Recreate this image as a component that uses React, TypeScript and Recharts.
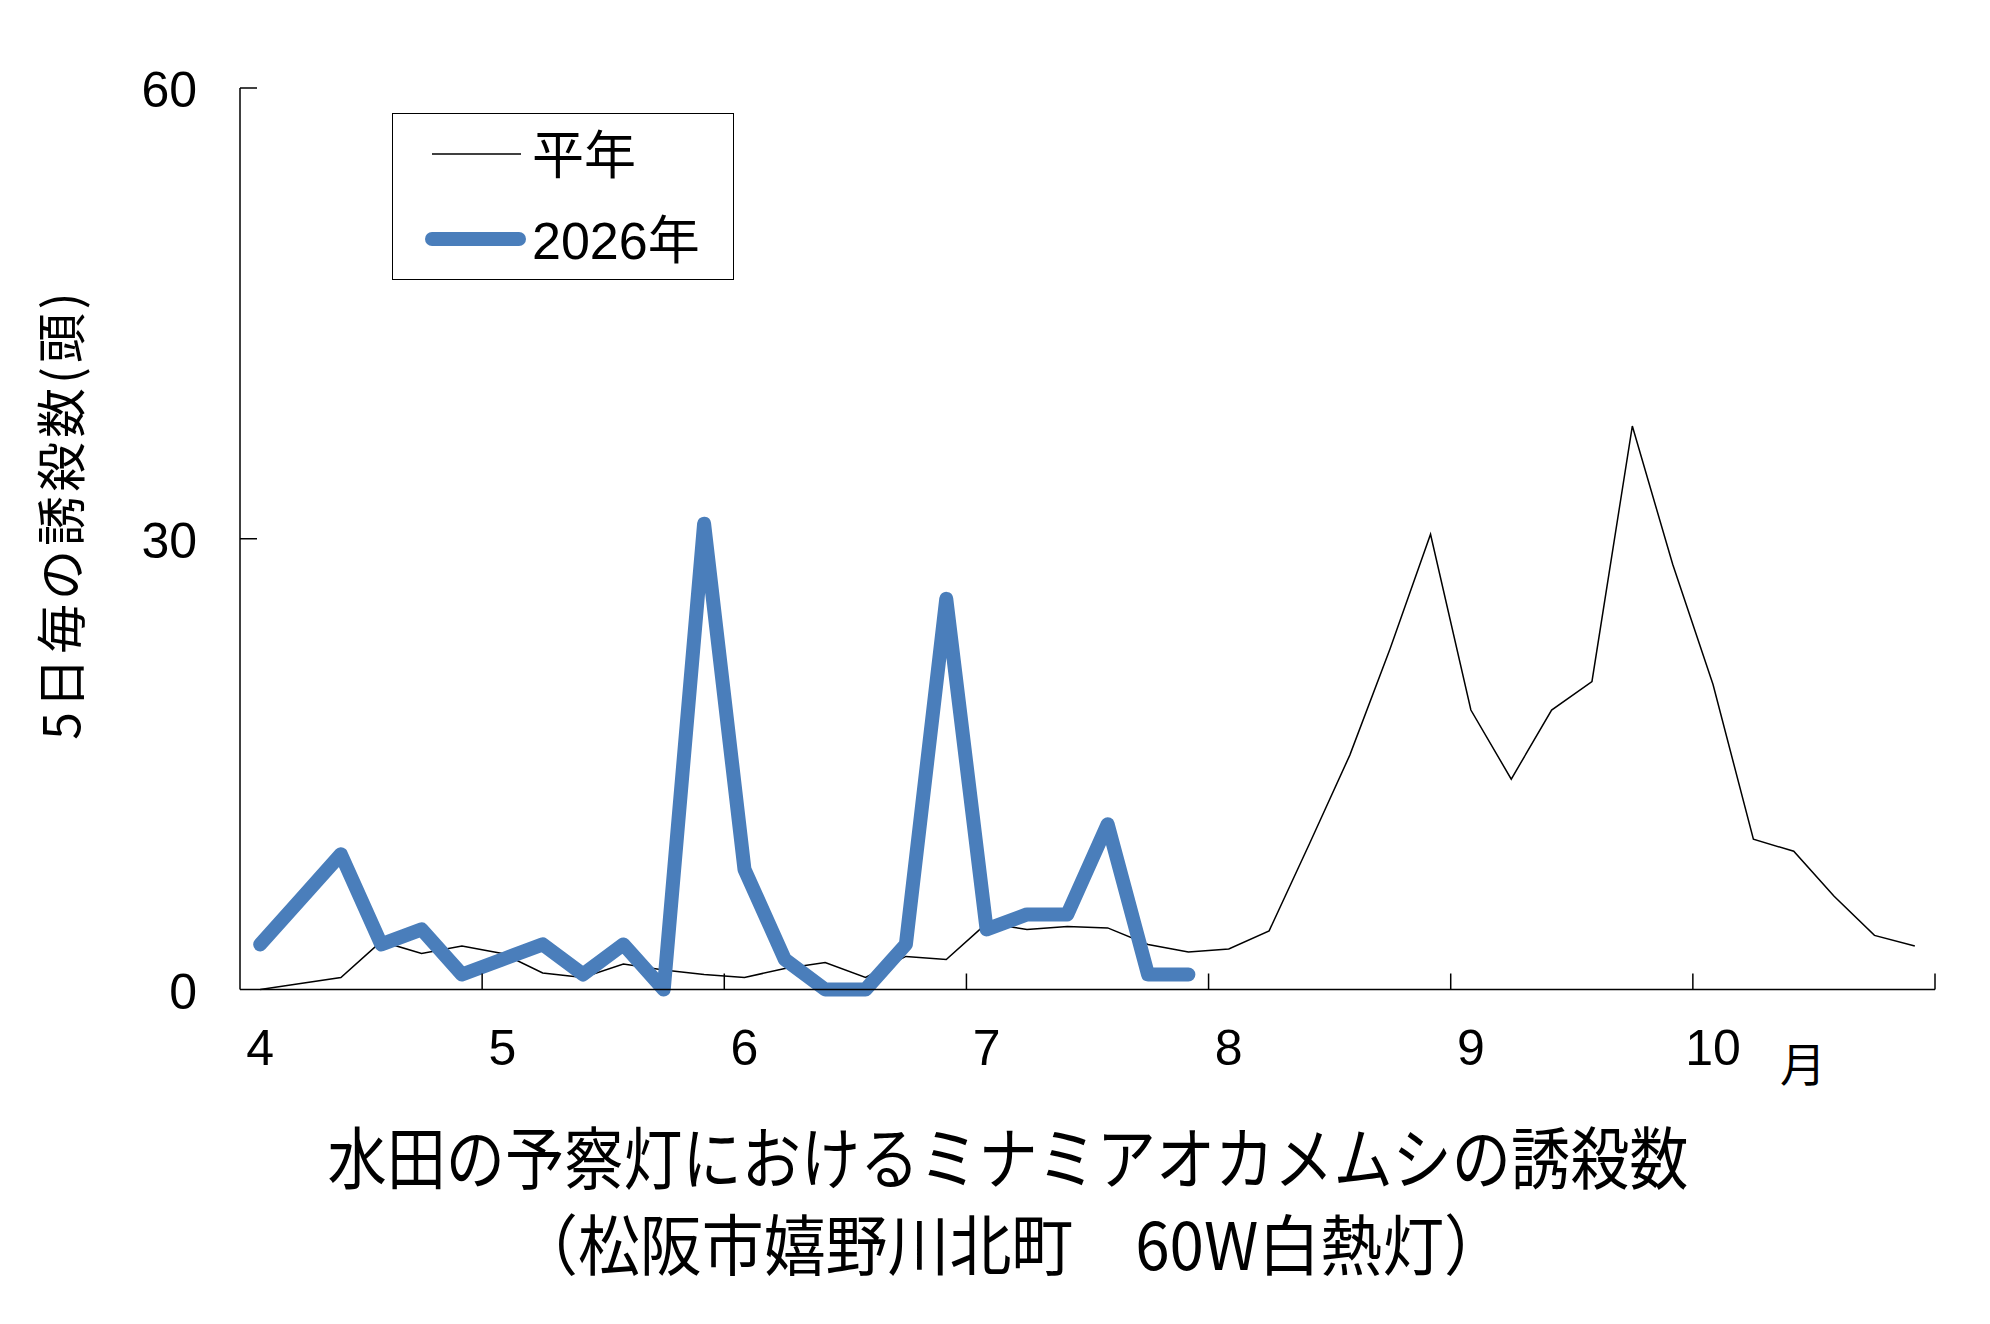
import React from 'react';
import { LineChart, Line, XAxis, YAxis, Legend } from 'recharts';

// ---- data ----
const months = ['4', '5', '6', '7', '8', '9', '10'];
const pentads = ['1', '2', '3', '4', '5', '6'];
const categories = months.flatMap((m) => pentads.map((p) => `${m}月${p}半旬`));

const normalValues = [
  0, 0.4, 0.8, 3.2, 2.4, 2.9,
  2.4, 1.1, 0.8, 1.7, 1.3, 1.0,
  0.8, 1.4, 1.8, 0.8, 2.2, 2.0,
  4.4, 4.0, 4.2, 4.1, 3.0, 2.5,
  2.7, 3.9, 9.7, 15.6, 22.7, 30.3,
  18.6, 14.0, 18.6, 20.5, 37.5, 28.3,
  20.3, 10.0, 9.2, 6.2, 3.6, 2.9,
];

const values2026 = [
  3, 6, 9, 3, 4, 1,
  2, 3, 1, 3, 0, 31,
  8, 2, 0, 0, 3, 26,
  4, 5, 5, 11, 1, 1,
];

const yTicks = [0, 30, 60];
const seriesNames = ['平年', '2026年'];
const monthUnit = '月';
const yAxisTitle = '5日毎の誘殺数(頭)';
const titleLine1 = '水田の予察灯におけるミナミアオカメムシの誘殺数';
const titleLine2 = '（松阪市嬉野川北町　60W白熱灯）';

const data = categories.map((c, i) => ({
  cat: c,
  normal: normalValues[i],
  y2026: i < values2026.length ? values2026[i] : null,
}));

// ---- styles ----
const NUM_FONT = '"Liberation Sans", Arial, sans-serif';
const JP_FONT = '"Noto Sans CJK JP", "Noto Sans", sans-serif';
const BLUE = '#4a7ebb';
const seriesStroke = [1.5, 14];

const XTick = (props: any) => {
  const { x, y, payload } = props;
  const idx: number = payload.index;
  const half: number = typeof payload.offset === 'number' && payload.offset > 0 ? payload.offset : 20.18;
  const els: any[] = [];
  if (idx % 6 === 0 && idx > 0) {
    els.push(<line key="t" x1={x - half} x2={x - half} y1={y} y2={y - 16} stroke="#000" strokeWidth={1.5} />);
  }
  if (idx === categories.length - 1) {
    els.push(<line key="te" x1={x + half} x2={x + half} y1={y} y2={y - 16} stroke="#000" strokeWidth={1.5} />);
  }
  if (idx % 6 === 0) {
    const m = months[idx / 6];
    els.push(
      <text key="l" x={x} y={y + 58} textAnchor="middle" dominantBaseline="central" fontSize={50} fontFamily={NUM_FONT} fill="#000">
        {m}
      </text>
    );
    if (idx / 6 === months.length - 1) {
      els.push(
        <text key="u" x={x + 90} y={y + 71} textAnchor="middle" dominantBaseline="central" fontSize={46} fontFamily={JP_FONT} fill="#000">
          {monthUnit}
        </text>
      );
    }
  }
  return <g>{els}</g>;
};

const YTick = (props: any) => {
  const { x, y, payload } = props;
  return (
    <g>
      {payload.value !== 0 && <line x1={x} x2={x + 17} y1={y} y2={y} stroke="#000" strokeWidth={1.5} />}
      <text x={x - 43} y={y + 2} textAnchor="end" dominantBaseline="central" fontSize={50} fontFamily={NUM_FONT} fill="#000">
        {payload.value}
      </text>
    </g>
  );
};

const LegendContent = (props: any) => {
  const payload = [...(props.payload || [])].sort(
    (a: any, b: any) => seriesNames.indexOf(a.value) - seriesNames.indexOf(b.value)
  );
  const rows = [41, 126];
  return (
    <div
      style={{
        width: 342,
        height: 167,
        boxSizing: 'border-box',
        border: '1.5px solid #000',
        background: '#fff',
        position: 'relative',
      }}
    >
      <svg width={342} height={167} style={{ position: 'absolute', left: -1.5, top: -1.5 }}>
        {payload.map((e: any, i: number) => {
          const si = seriesNames.indexOf(e.value);
          const sw = seriesStroke[si] ?? 1.5;
          const thick = sw > 5;
          const cy = rows[i] ?? 41 + i * 85;
          return (
            <g key={i}>
              <line
                x1={40}
                x2={thick ? 127 : 129}
                y1={cy}
                y2={cy}
                stroke={e.color}
                strokeWidth={sw}
                strokeLinecap={thick ? 'round' : 'butt'}
              />
              <text x={140} y={cy + 2} dominantBaseline="central" fontSize={52} fontFamily={`"Liberation Sans", ${JP_FONT}`} fill="#000">
                {e.value}
              </text>
            </g>
          );
        })}
      </svg>
    </div>
  );
};

export default function App() {
  return (
    <div style={{ position: 'absolute', left: 0, top: 0, width: 1990, height: 1324, background: '#fff' }}>
      <LineChart
        width={1990}
        height={1324}
        data={data}
        margin={{ top: 88, right: 55, left: 140, bottom: 274.5 }}
      >
        <XAxis
          dataKey="cat"
          scale="band"
          interval={0}
          tickLine={false}
          tickSize={0}
          tickMargin={0}
          height={60}
          axisLine={{ stroke: '#000', strokeWidth: 1.5 }}
          tick={<XTick />}
        />
        <YAxis
          domain={[0, 60]}
          ticks={yTicks}
          interval={0}
          width={100}
          tickLine={false}
          tickSize={0}
          tickMargin={0}
          axisLine={{ stroke: '#000', strokeWidth: 1.5 }}
          tick={<YTick />}
        />
        <Legend
          layout="vertical"
          align="center"
          verticalAlign="middle"
          content={<LegendContent />}
          wrapperStyle={{ position: 'absolute', left: 392, top: 113, width: 342, height: 167 }}
        />
        <Line
          name={seriesNames[0]}
          dataKey="normal"
          type="linear"
          stroke="#000"
          strokeWidth={seriesStroke[0]}
          dot={false}
          activeDot={false}
          isAnimationActive={false}
        />
        <Line
          name={seriesNames[1]}
          dataKey="y2026"
          type="linear"
          stroke={BLUE}
          strokeWidth={seriesStroke[1]}
          strokeLinejoin="round"
          strokeLinecap="round"
          dot={false}
          activeDot={false}
          connectNulls={false}
          isAnimationActive={false}
        />
      </LineChart>
      <svg width={1990} height={1324} style={{ position: 'absolute', left: 0, top: 0, pointerEvents: 'none' }}>
        <text
          transform="translate(58,514) rotate(-90)"
          textAnchor="middle"
          dominantBaseline="central"
          fontSize={50}
          letterSpacing={4}
          fontFamily={JP_FONT}
          fill="#000"
        >
          {yAxisTitle}
        </text>
        <text
          x={1008}
          y={1154}
          textAnchor="middle"
          dominantBaseline="central"
          fontSize={68}
          textLength={1361}
          lengthAdjust="spacingAndGlyphs"
          fontFamily={JP_FONT}
          fill="#000"
        >
          {titleLine1}
        </text>
        <text
          x={1011}
          y={1241}
          textAnchor="middle"
          dominantBaseline="central"
          fontSize={66}
          textLength={990}
          lengthAdjust="spacingAndGlyphs"
          fontFamily={JP_FONT}
          fill="#000"
        >
          {titleLine2}
        </text>
      </svg>
    </div>
  );
}
